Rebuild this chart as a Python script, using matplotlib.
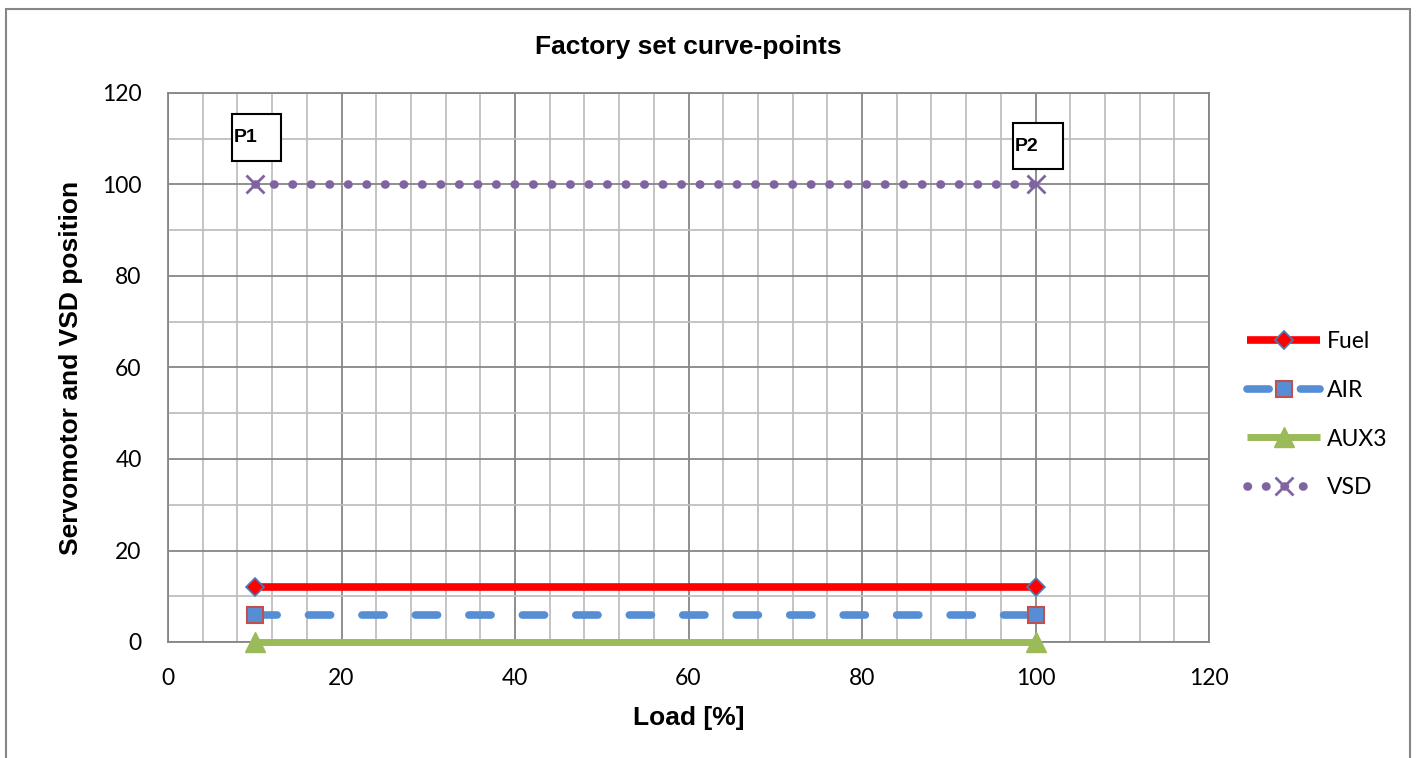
# Factory set curve-points chart (servomotor and VSD positions vs load)

import matplotlib
matplotlib.use("Agg")
import matplotlib.pyplot as plt
from matplotlib.patches import Rectangle
from matplotlib.ticker import MultipleLocator

# Data
load = [10, 100]
fuel = [12, 12]
air = [6, 6]
aux3 = [0, 0]
vsd = [100, 100]

point_labels = ["P1", "P2"]
# label box corners (x0, y0, x1, y1) in data units, next to each curve point
label_boxes = [(7.4, 105.1, 13.0, 115.4), (97.4, 103.4, 103.2, 113.4)]

W, H = 1416, 758
fig = plt.figure(figsize=(W / 100, H / 100), dpi=100)
ax = fig.add_axes([168 / W, 1 - 642 / H, (1209 - 168) / W, (642 - 93) / H])

# outer chart frame (bottom edge is cut off in the original)
fig.patches.append(Rectangle((6 / W, -0.02), (1410 - 6) / W, 1.02 - 9 / H,
                             transform=fig.transFigure, fill=False,
                             edgecolor="#868686", linewidth=1.5))

ax.plot(load, fuel, color="#ff0000", lw=5.5, marker="D", markersize=9.5,
        markerfacecolor="#ff0000", markeredgecolor="#4a7ebb", markeredgewidth=1.2,
        label="Fuel", clip_on=False, zorder=3, solid_capstyle="butt")
ax.plot(load, air, color="#558ed5", lw=5.5, dashes=(2.9, 4.1), dash_capstyle="round",
        marker="s", markersize=12, markerfacecolor="#558ed5",
        markeredgecolor="#c0504d", markeredgewidth=1.5,
        label="AIR", clip_on=False, zorder=3)
ax.plot(load, aux3, color="#9bbb59", lw=5, marker="^", markersize=14,
        markerfacecolor="#9bbb59", markeredgecolor="#9bbb59",
        label="AUX3", clip_on=False, zorder=3, solid_capstyle="butt")
ax.plot(load, vsd, color="#8064a2", lw=6.2, dashes=(0.05, 2.1), dash_capstyle="round",
        marker="x", markersize=13, markeredgewidth=2, markeredgecolor="#8064a2",
        label="VSD", clip_on=False, zorder=3)

ax.set_xlim(0, 120)
ax.set_ylim(0, 120)
ax.xaxis.set_major_locator(MultipleLocator(20))
ax.xaxis.set_minor_locator(MultipleLocator(4))
ax.yaxis.set_major_locator(MultipleLocator(20))
ax.yaxis.set_minor_locator(MultipleLocator(10))
ax.grid(which="major", color="#868686", lw=1.3)
ax.grid(which="minor", color="#bfbfbf", lw=1.3)
ax.set_axisbelow(True)
for s in ax.spines.values():
    s.set_color("#868686")
    s.set_linewidth(1.3)
ax.tick_params(which="both", length=0)
ax.tick_params(axis="x", pad=19)
ax.tick_params(axis="y", pad=19)
for lab in ax.get_xticklabels() + ax.get_yticklabels():
    lab.set_fontfamily("Lato")
    lab.set_fontsize(16.5)

ax.set_title("Factory set curve-points", fontfamily="Liberation Sans",
             fontweight="bold", fontsize=19, pad=28)
ax.set_xlabel("Load [%]", fontfamily="Liberation Sans", fontweight="bold",
              fontsize=19, labelpad=12)
ax.set_ylabel("Servomotor and VSD position", fontfamily="Liberation Sans",
              fontweight="bold", fontsize=19, labelpad=14)

# P1 / P2 label boxes
for txt, (x0, y0, x1, y1) in zip(point_labels, label_boxes):
    ax.add_patch(Rectangle((x0, y0), x1 - x0, y1 - y0, fill=True, facecolor="white",
                           edgecolor="black", lw=1.5, zorder=4, clip_on=False))
    ax.text(x0 + 0.2, (y0 + y1) / 2, txt, fontfamily="Liberation Sans",
            fontweight="bold", fontsize=14, ha="left", va="center", zorder=5)

leg = fig.legend(loc="upper left", bbox_to_anchor=(1247 / W, 1 - 331.5 / H),
                 frameon=False, borderpad=0, borderaxespad=0, handlelength=3.2,
                 handletextpad=0.3, labelspacing=1.2,
                 prop={"family": "Lato", "size": 16.5})

fig.savefig("out.png", dpi=100)
